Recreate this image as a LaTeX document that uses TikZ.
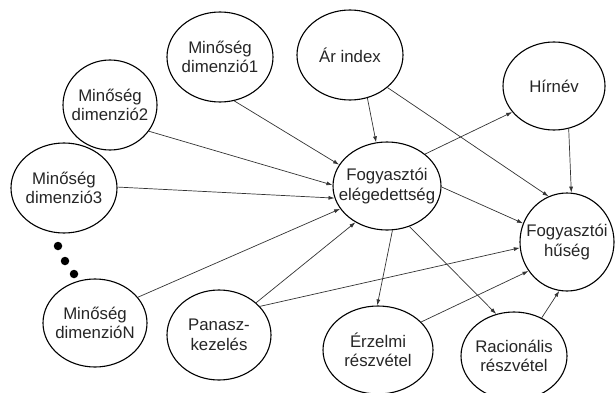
\documentclass[tikz,border=0pt]{standalone}
\usepackage{fontspec}
\setmainfont{Liberation Sans}
\usetikzlibrary{shapes.geometric,arrows.meta}
\begin{document}
\begin{tikzpicture}[x=1pt,y=-1pt,
  bubble/.style={ellipse,draw=black,line width=1.1pt,inner sep=0pt,fill=white},
  lbl/.style={align=center,inner sep=0pt,text=black!85,font=\fontsize{16.8}{19.5}\selectfont},
  link/.style={draw=black!80,line width=0.7pt,-{Latex[length=6pt,width=4pt]}},
  dot/.style={circle,fill=black,inner sep=0pt,minimum size=8.5pt}]
\useasboundingbox (0,0) rectangle (615,393);

% constructs
\node[bubble,minimum width=106pt,minimum height=90pt,label={[lbl]center:{Minőség\\dimenzió1}}] (d1) at (220,57) {};
\node[bubble,minimum width=94pt,minimum height=90pt,label={[lbl]center:{Minőség\\dimenzió2}}] (d2) at (110,105) {};
\node[bubble,minimum width=106pt,minimum height=90pt,label={[lbl]center:{Minőség\\dimenzió3}}] (d3) at (64,188) {};
\node[bubble,minimum width=104pt,minimum height=88pt,label={[lbl]center:{Minőség\\dimenzióN}}] (dn) at (95,323) {};
\node[bubble,minimum width=104pt,minimum height=90pt,label={[lbl]center:{Panasz-\\kezelés}}] (pk) at (219,335) {};
\node[bubble,minimum width=106pt,minimum height=90pt,label={[lbl]center:{Ár index}}] (ar) at (350,55) {};
\node[bubble,minimum width=102pt,minimum height=88pt,label={[lbl]center:{Hírnév}}] (hn) at (554,86) {};
\node[bubble,minimum width=108pt,minimum height=88pt,label={[lbl]center:{Fogyasztói\\elégedettség}}] (fe) at (387,186) {};
\node[bubble,minimum width=94pt,minimum height=98pt,label={[lbl]center:{Fogyasztói\\hűség}}] (fh) at (567,242) {};
\node[bubble,minimum width=110pt,minimum height=88pt,label={[lbl]center:{Érzelmi\\részvétel}}] (er) at (378,350) {};
\node[bubble,minimum width=106pt,minimum height=88pt,label={[lbl]center:{Racionális\\részvétel}}] (ra) at (514,356) {};

% ellipsis between dimension 3 and dimension N
\node[dot] (e1) at (58,246) {};
\node[dot] (e2) at (65,261) {};
\node[dot] (e3) at (74,274) {};

% paths
\draw[link] (d1.-72) -- (fe.156);
\draw[link] (d2.-34) -- (fe.179);
\draw[link] (d3.1) -- (fe.193);
\draw[link] (dn.31) -- (fe.206);
\draw[link] (pk.41) -- (fe.229);
\draw[link] (pk.35) -- (fh.187);
\draw[link] (ar.-68) -- (fe.104);
\draw[link] (ar.-41) -- (fh.112);
\draw[link] (hn.-71) -- (fh.85);
\draw[link] (fe.40) -- (hn.212);
\draw[link] (fe.-1) -- (fh.157);
\draw[link] (fe.-83) -- (er.91);
\draw[link] (fe.-61) -- (ra.113);
\draw[link] (er.33) -- (fh.217);
\draw[link] (ra.54) -- (fh.261);
\end{tikzpicture}
\end{document}
